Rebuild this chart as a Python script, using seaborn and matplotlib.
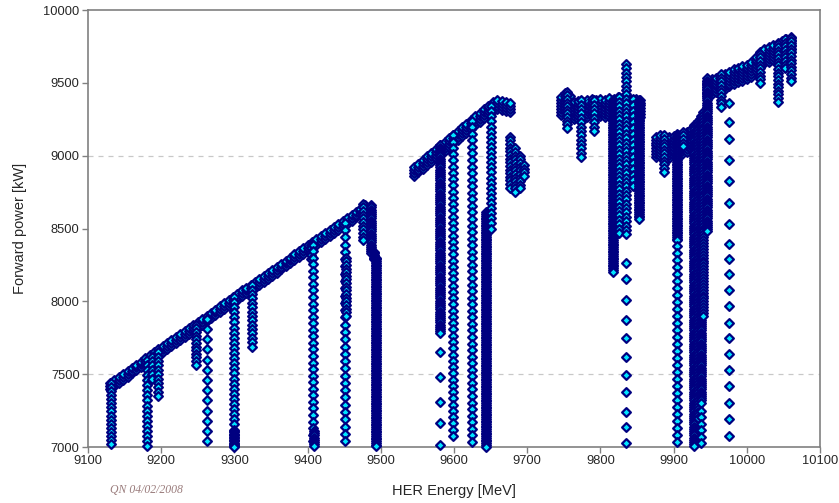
import numpy as np
import pandas as pd
import matplotlib
matplotlib.use("Agg")
import matplotlib.pyplot as plt
import seaborn as sns

# ---------------- data ----------------
# upper envelope of each scan segment (energy MeV, forward power kW)
ramp1_energy = [9130, 9136, 9142, 9148, 9154, 9160, 9166, 9172, 9178, 9184, 9190, 9196,
                9202, 9208, 9214, 9220, 9226, 9232, 9238, 9244, 9250, 9256, 9262, 9268,
                9274, 9280, 9286, 9292, 9298, 9304, 9310, 9316, 9322, 9328, 9334, 9340,
                9346, 9352, 9358, 9364, 9370, 9376, 9382, 9388, 9394, 9400, 9406, 9412,
                9418, 9424, 9430, 9436, 9442, 9448, 9454, 9460, 9466, 9472, 9478]
ramp1_power = [7450, 7471, 7492, 7513, 7534, 7555, 7576, 7597, 7618, 7639, 7660, 7681,
               7702, 7723, 7744, 7765, 7786, 7807, 7828, 7849, 7870, 7891, 7912, 7933,
               7954, 7975, 7996, 8017, 8038, 8062, 8085, 8105, 8122, 8143, 8164, 8185,
               8206, 8227, 8248, 8269, 8290, 8311, 8332, 8353, 8374, 8395, 8416, 8437,
               8458, 8479, 8500, 8521, 8542, 8563, 8584, 8605, 8626, 8647, 8668]
ramp2_energy = [9545, 9551, 9557, 9563, 9569, 9575, 9581, 9587, 9593, 9599, 9605, 9611,
                9617, 9623, 9629, 9635, 9641, 9647, 9653, 9659, 9665, 9671, 9677]
ramp2_power = [8920, 8945, 8970, 8995, 9020, 9045, 9070, 9094, 9119, 9144, 9169, 9194,
               9219, 9244, 9269, 9294, 9319, 9344, 9369, 9380, 9375, 9370, 9360]
ramp3_energy = [9746, 9752, 9758, 9764, 9770, 9776, 9782, 9788, 9794, 9800, 9806, 9812,
                9818, 9824, 9830, 9836, 9842, 9848, 9854]
ramp3_power = [9400, 9430, 9410, 9370, 9375, 9370, 9385, 9390, 9380, 9390, 9385, 9395,
               9390, 9405, 9395, 9390, 9385, 9390, 9385]
ramp4_energy = [9876, 9882, 9888, 9894, 9900, 9906, 9912, 9918, 9924, 9930, 9936, 9942]
ramp4_power = [9140, 9150, 9140, 9135, 9145, 9150, 9160, 9175, 9195, 9225, 9260, 9300]
ramp5_energy = [9946, 9952, 9958, 9964, 9970, 9976, 9982, 9988, 9994, 10000, 10006, 10012,
                10018, 10024, 10030, 10036, 10042, 10048, 10054, 10060]
ramp5_power = [9510, 9525, 9535, 9550, 9560, 9575, 9595, 9605, 9615, 9625, 9640, 9680,
               9715, 9735, 9745, 9760, 9775, 9790, 9800, 9815]
ramp_band = [50, 60, 120, 150, 100]         # spread of readings below the envelope (kW)

# power drops recorded at fixed energy: energy, highest, lowest, reading spacing (kW)
drop_energy = [9132, 9180, 9188, 9196, 9247, 9263, 9299, 9300, 9324, 9404, 9408, 9409,
               9451, 9452, 9476, 9486, 9490, 9494,
               9581, 9599, 9625, 9643, 9651, 9676, 9683, 9690, 9696,
               9755, 9774, 9791, 9817, 9826, 9835, 9845, 9853,
               9887, 9905, 9905, 9913, 9928, 9933, 9937, 9937, 9940, 9945,
               9965, 10018, 10042, 10052, 10060]
drop_top = [7440, 7600, 7620, 7650, 7840, 7880, 8030, 7110, 8110, 8390, 8390, 7110,
            8540, 8300, 8670, 8660, 8340, 8300,
            9070, 9140, 9240, 8610, 9340, 9130, 9050, 9000, 8935,
            9440, 9380, 9380, 9380, 9400, 9630, 9390, 9380,
            9140, 9150, 8380, 9165, 9210, 9240, 9270, 7250, 9300, 9530,
            9560, 9700, 9770, 9800, 9810]
drop_bottom = [7020, 7000, 7460, 7340, 7550, 7030, 7000, 7000, 7690, 8270, 7000, 7000,
               7040, 7900, 8420, 8330, 8290, 7000,
               7780, 7050, 7000, 7000, 8490, 8780, 8730, 8760, 8850,
               9175, 8985, 9155, 8200, 8455, 8440, 8765, 8560,
               8880, 8410, 7000, 9050, 7000, 7200, 7300, 7000, 7900, 8470,
               9330, 9480, 9370, 9600, 9510]
drop_step = [28, 35, 30, 30, 25, 70, 35, 10, 30, 25, 45, 15,
             50, 25, 25, 15, 10, 12,
             15, 43, 45, 12, 35, 25, 25, 25, 25,
             25, 30, 30, 12, 30, 30, 40, 12,
             25, 12, 48, 25, 15, 20, 15, 45, 20, 15,
             25, 25, 25, 25, 25]

# isolated readings
single_energy = [9581, 9581, 9581, 9581, 9581,
                 9835, 9835, 9835, 9835, 9835, 9835, 9835, 9835, 9835, 9835, 9835,
                 9975, 9975, 9975, 9975, 9975, 9975, 9975, 9975, 9975, 9975,
                 9975, 9975, 9975, 9975, 9975, 9975, 9975, 9975, 9975, 9975]
single_power = [7652, 7480, 7310, 7165, 7015,
                8263, 8153, 8009, 7872, 7748, 7618, 7494, 7377, 7240, 7137, 7027,
                9362, 9231, 9114, 8970, 8826, 8675, 8531, 8394, 8291, 8188,
                8078, 7968, 7851, 7748, 7638, 7528, 7419, 7302, 7192, 7075]

x_ticks = list(range(9100, 10101, 100))
y_ticks = list(range(7000, 10001, 500))
grid_levels = [7500, 9000]

# ---------------- assemble the readings ----------------
rows_e, rows_p = [], []
ramps = [(ramp1_energy, ramp1_power), (ramp2_energy, ramp2_power),
         (ramp3_energy, ramp3_power), (ramp4_energy, ramp4_power),
         (ramp5_energy, ramp5_power)]
for (es, ps), band in zip(ramps, ramp_band):
    for e, p in zip(es, ps):
        for v in np.arange(p - band, p + 1, 20):
            rows_e.append(e); rows_p.append(v)
for e, t, b, s in zip(drop_energy, drop_top, drop_bottom, drop_step):
    for v in np.arange(t, b - 1, -s):
        rows_e.append(e); rows_p.append(v)
rows_e += single_energy
rows_p += single_power
df = pd.DataFrame({"HER Energy [MeV]": rows_e, "Forward power [kW]": rows_p})

# ---------------- plot ----------------
sns.set_style("white")
plt.rcParams["font.family"] = ["Liberation Sans", "DejaVu Sans"]

fig = plt.figure(figsize=(8.39, 5.03), dpi=100)
ax = fig.add_axes([0.1049, 0.1113, 0.8725, 0.8688])

for g in grid_levels:
    ax.axhline(g, color="#c8c8c8", lw=0.9, ls=(0, (4, 4)), zorder=0)

sns.scatterplot(data=df, x="HER Energy [MeV]", y="Forward power [kW]", ax=ax,
                marker="D", s=20, color="#00e5ff", edgecolor="#000080",
                linewidth=1.6, legend=False, clip_on=False, zorder=3)

ax.set_xlim(9100, 10100)
ax.set_ylim(7000, 10000)
ax.set_xticks(x_ticks)
ax.set_yticks(y_ticks)
ax.tick_params(axis="both", direction="out", length=4, width=1, color="#808080",
               labelsize=9.3, pad=2, bottom=True, left=True)
for sp in ax.spines.values():
    sp.set_color("#808080")
    sp.set_linewidth(1.2)
ax.set_xlabel("HER Energy [MeV]", fontsize=10.5, labelpad=12)
ax.set_ylabel("Forward power [kW]", fontsize=10.5, labelpad=12)

fig.text(0.131, 0.02, "QN 04/02/2008", fontsize=8.5, style="italic",
         family=["Liberation Serif", "DejaVu Serif"], color="#9a7c7c")

fig.savefig("out.png", dpi=100)
